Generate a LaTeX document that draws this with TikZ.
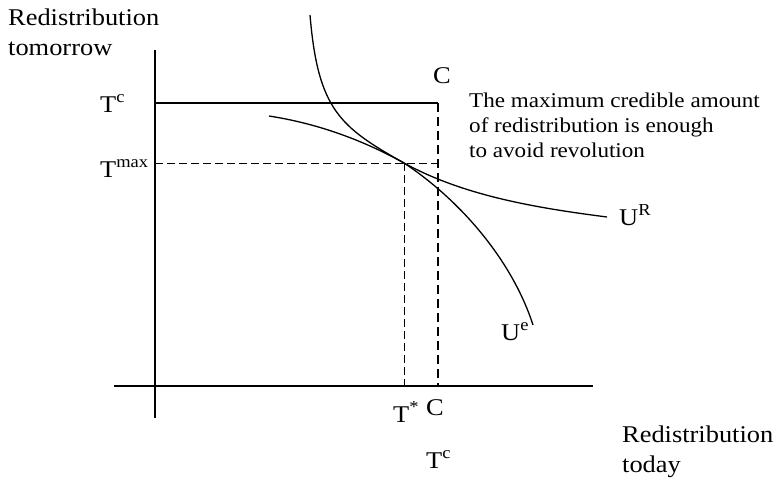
\documentclass[tikz,border=0pt]{standalone}
\usepackage{fontspec}
\setmainfont{Liberation Serif}[FakeStretch=1.1]
\usepackage{tikz}

\begin{document}
\begin{tikzpicture}[x=1pt,y=-1pt,
  lab/.style={anchor=base west,inner sep=0pt,font=\fontsize{24}{30}\selectfont},
  note/.style={anchor=base west,inner sep=0pt,font=\fontsize{21}{25}\selectfont},
  axisline/.style={line width=2.8pt},
  curveline/.style={line width=1.3pt},
  thindash/.style={line width=1pt,dash pattern=on 8pt off 4pt},
  thickdash/.style={line width=2.4pt,dash pattern=on 9pt off 5pt}]
  \useasboundingbox (0,0) rectangle (779,482);
  % axes and the levels
  \coordinate (ybot) at (155,418);
  \coordinate (ytop) at (155,50);
  \coordinate (xleft) at (114,386);
  \coordinate (xright) at (593,386);
  \coordinate (tcleft) at (155,103);
  \coordinate (ctop) at (438,103);
  \coordinate (cbot) at (438,386);
  \coordinate (tmleft) at (155,163);
  \coordinate (tmright) at (438,163);
  \coordinate (tstar) at (404,163);
  \coordinate (tstarbot) at (404,386);
  \draw[axisline] (ybot) -- (ytop);
  \draw[axisline] (xleft) -- (xright);
  \draw[curveline] (tcleft) -- (ctop);
  \draw[thickdash] (ctop) -- (cbot);
  \draw[thindash] (tmleft) -- (tmright);
  \draw[thindash] (tstar) -- (tstarbot);
  % indifference curves, touching at (tstar)
  \draw[curveline] (269,116) .. controls (314,123) and (359,138) .. (tstar)
    .. controls (464,196) and (537,208) .. (607,217);
  \draw[curveline] (310,15) .. controls (318,110) and (340,127) .. (tstar)
    .. controls (460,200) and (512,260) .. (533,325);
  % labels
  \node[lab] (ylab1) at (8,25) {Redistribution};
  \node[lab] (ylab2) at (8,55) {tomorrow};
  \node[lab] (tcl) at (100,112) {T\textsuperscript{c}};
  \node[lab] (tml) at (100,177) {T\textsuperscript{max}};
  \node[lab] (ctopl) at (433,83) {C};
  \node[note] (note1) at (469,107) {The maximum credible amount};
  \node[note] (note2) at (469,132) {of redistribution is enough};
  \node[note] (note3) at (469,157) {to avoid revolution};
  \node[lab] (url) at (619,225) {U\textsuperscript{R}};
  \node[lab] (uel) at (501,340) {U\textsuperscript{e}};
  \node[lab] (tsl) at (393,422) {T\textsuperscript{*}};
  \node[lab] (cbl) at (426,415) {C};
  \node[lab] (tcb) at (426,468) {T\textsuperscript{c}};
  \node[lab] (xlab1) at (622,442) {Redistribution};
  \node[lab] (xlab2) at (622,472) {today};
\end{tikzpicture}
\end{document}
